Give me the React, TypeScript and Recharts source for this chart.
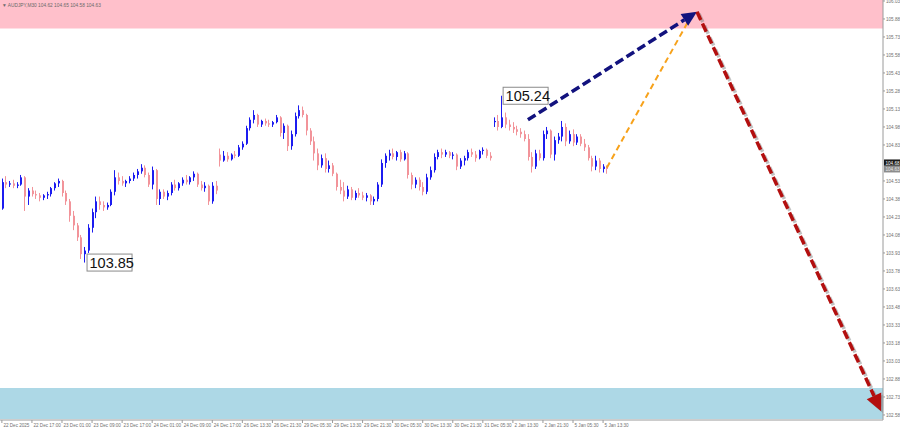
import React from 'react';
import { ComposedChart, Bar, XAxis, YAxis, ReferenceArea, ReferenceLine, ReferenceDot } from 'recharts';

// [open, high, low, close] per hour
const candles: number[][] = [
  [104.30,104.55,104.29,104.52],[104.52,104.57,104.47,104.50],[104.50,104.53,104.48,104.51],[104.51,104.54,104.47,104.49],
  [104.49,104.52,104.47,104.50],[104.50,104.58,104.49,104.56],[104.56,104.57,104.28,104.40],[104.40,104.47,104.33,104.45],
  [104.45,104.48,104.40,104.42],[104.42,104.45,104.38,104.41],[104.41,104.43,104.36,104.39],[104.39,104.42,104.37,104.41],
  [104.41,104.44,104.38,104.42],[104.42,104.48,104.40,104.47],[104.47,104.52,104.45,104.51],[104.51,104.55,104.48,104.53],
  [104.53,104.54,104.40,104.43],[104.43,104.45,104.33,104.36],[104.36,104.38,104.19,104.24],[104.24,104.28,104.12,104.16],
  [104.16,104.18,104.03,104.06],[104.06,104.08,103.88,103.92],[103.92,103.98,103.85,103.95],[103.95,104.17,103.93,104.14],
  [104.14,104.30,104.10,104.27],[104.27,104.40,104.22,104.36],[104.36,104.40,104.29,104.33],[104.33,104.36,104.28,104.31],
  [104.31,104.35,104.29,104.33],[104.33,104.46,104.32,104.44],[104.44,104.62,104.41,104.56],[104.56,104.60,104.50,104.53],
  [104.53,104.57,104.49,104.51],[104.51,104.54,104.48,104.53],[104.53,104.57,104.51,104.55],[104.55,104.60,104.53,104.58],
  [104.58,104.63,104.55,104.61],[104.61,104.67,104.59,104.64],[104.64,104.66,104.56,104.58],[104.58,104.60,104.48,104.50],
  [104.50,104.65,104.46,104.62],[104.62,104.63,104.33,104.38],[104.38,104.46,104.33,104.44],[104.44,104.46,104.38,104.40],
  [104.40,104.45,104.37,104.43],[104.43,104.52,104.41,104.50],[104.50,104.54,104.45,104.47],[104.47,104.52,104.45,104.51],
  [104.51,104.56,104.49,104.54],[104.54,104.58,104.50,104.52],[104.52,104.57,104.50,104.56],[104.56,104.61,104.53,104.59],
  [104.59,104.60,104.48,104.50],[104.50,104.53,104.45,104.47],[104.47,104.52,104.44,104.49],[104.49,104.50,104.33,104.36],
  [104.36,104.52,104.34,104.49],[104.49,104.53,104.42,104.45],[104.75,104.80,104.65,104.70],[104.70,104.78,104.69,104.74],
  [104.74,104.77,104.69,104.71],[104.71,104.76,104.70,104.75],[104.75,104.78,104.72,104.74],[104.74,104.83,104.73,104.81],
  [104.81,104.86,104.79,104.84],[104.84,104.99,104.83,104.97],[104.97,105.06,104.95,105.04],[105.04,105.12,105.01,105.08],
  [105.08,105.09,104.98,105.00],[105.00,105.04,104.98,105.03],[105.03,105.05,104.99,105.01],[105.01,105.04,104.98,105.00],
  [105.00,105.03,104.98,105.02],[105.02,105.08,105.01,105.06],[105.06,105.07,104.90,104.93],[104.93,105.01,104.88,104.99],
  [104.99,105.00,104.78,104.82],[104.82,104.95,104.79,104.92],[104.92,105.10,104.90,105.07],[105.07,105.16,105.05,105.12],
  [105.12,105.15,105.06,105.08],[105.08,105.09,104.91,104.95],[104.95,104.97,104.83,104.86],[104.86,104.90,104.70,104.76],
  [104.76,104.80,104.62,104.66],[104.66,104.75,104.64,104.72],[104.72,104.76,104.60,104.63],[104.63,104.70,104.60,104.66],
  [104.66,104.68,104.57,104.59],[104.59,104.60,104.45,104.48],[104.48,104.54,104.42,104.45],[104.45,104.52,104.36,104.40],
  [104.40,104.49,104.38,104.46],[104.46,104.48,104.37,104.39],[104.39,104.45,104.37,104.43],[104.43,104.47,104.39,104.41],
  [104.41,104.44,104.37,104.39],[104.39,104.43,104.36,104.41],[104.41,104.42,104.33,104.36],[104.36,104.40,104.33,104.38],
  [104.38,104.52,104.36,104.50],[104.50,104.71,104.48,104.68],[104.68,104.76,104.64,104.74],[104.74,104.79,104.70,104.76],
  [104.76,104.80,104.71,104.73],[104.73,104.78,104.70,104.77],[104.77,104.79,104.69,104.71],[104.71,104.78,104.70,104.76],
  [104.76,104.77,104.55,104.58],[104.58,104.60,104.46,104.50],[104.50,104.56,104.47,104.54],[104.54,104.56,104.45,104.48],
  [104.48,104.52,104.41,104.44],[104.44,104.59,104.42,104.56],[104.56,104.65,104.54,104.62],[104.62,104.76,104.60,104.73],
  [104.73,104.79,104.71,104.77],[104.77,104.80,104.72,104.75],[104.75,104.79,104.73,104.77],[104.77,104.78,104.72,104.74],
  [104.74,104.77,104.71,104.75],[104.75,104.76,104.62,104.65],[104.65,104.72,104.63,104.70],[104.70,104.74,104.66,104.72],
  [104.72,104.79,104.70,104.77],[104.77,104.80,104.73,104.75],[104.75,104.78,104.69,104.72],[104.72,104.79,104.71,104.78],
  [104.78,104.81,104.75,104.79],[104.79,104.80,104.72,104.74],[104.74,104.77,104.70,104.72],[105.02,105.06,104.98,105.03],
  [105.03,105.08,104.95,104.98],[104.98,105.24,104.97,105.06],[105.06,105.10,104.97,105.00],[105.00,105.04,104.95,104.98],
  [104.98,105.02,104.93,104.96],[104.96,104.99,104.91,104.94],[104.94,104.97,104.89,104.92],[104.92,104.95,104.86,104.88],
  [104.88,104.92,104.70,104.73],[104.73,104.77,104.60,104.65],[104.65,104.79,104.63,104.76],[104.76,104.79,104.70,104.72],
  [104.72,104.95,104.70,104.92],[104.92,104.98,104.88,104.95],[104.95,104.96,104.72,104.75],[104.75,104.90,104.70,104.87],
  [104.87,104.93,104.84,104.90],[104.90,105.03,104.86,104.98],[104.98,105.01,104.82,104.86],[104.86,104.95,104.84,104.92],
  [104.92,104.96,104.82,104.85],[104.85,104.92,104.83,104.90],[104.90,104.92,104.82,104.84],[104.84,104.88,104.78,104.81],
  [104.81,104.83,104.70,104.72],[104.72,104.74,104.61,104.65],[104.65,104.74,104.62,104.70],[104.70,104.72,104.60,104.63],
  [104.63,104.67,104.60,104.65],[104.65,104.66,104.59,104.63],
];

const timeLabels = [
  '22 Dec 2025', '22 Dec 17:00', '23 Dec 01:00', '23 Dec 09:00', '23 Dec 17:00', '24 Dec 01:00', '24 Dec 09:00',
  '24 Dec 17:00', '26 Dec 13:30', '26 Dec 21:30', '29 Dec 05:30', '29 Dec 13:30', '29 Dec 21:30', '30 Dec 05:30',
  '30 Dec 13:30', '30 Dec 21:30', '31 Dec 05:30', '2 Jan 13:30', '2 Jan 21:30', '5 Jan 05:30', '5 Jan 13:30',
];

const priceTicks = [106.03, 105.88, 105.73, 105.58, 105.43, 105.28, 105.13, 104.98, 104.83, 104.53, 104.38, 104.23,
  104.08, 103.93, 103.78, 103.63, 103.48, 103.33, 103.18, 103.03, 102.88, 102.73, 102.58];
const askPrice = 104.68;
const bidPrice = 104.63;

const resistanceZone = [105.80, 106.04];
const supportZone = [102.546, 102.805];

const extremes = [{ i: 133, price: 105.24 }, { i: 22, price: 103.85 }];

const impulseUp = [{ i: 140, price: 105.04 }, { i: 185, price: 105.94 }];
const altUp = [{ i: 161, price: 104.64 }, { i: 183, price: 105.88 }];
const forecastDown = [{ i: 185, price: 105.94 }, { i: 234, price: 102.61 }];

const title = '\u25BC AUDJPY,M30  104.62 104.65 104.58 104.63';

const SLOTS = 235;
const UP = '#1c1cf0';
const DOWN = '#f2949a';
const AXIS = '#9a9a9a';
const FONT = 'Liberation Sans, Arial, sans-serif';

const rows = Array.from({ length: SLOTS }, (_, i) => {
  const c = candles[i];
  return c ? { t: i, range: [c[2], c[1]], o: c[0], h: c[1], l: c[2], c: c[3] } : { t: i, range: null };
});

const CandleShape = (props: any) => {
  const { x, y, width, height, payload } = props;
  if (!payload || payload.range == null) return null;
  const top = Math.min(y, y + height);
  const h = Math.abs(height);
  const { o, h: hi, l: lo, c } = payload;
  const k = hi > lo ? h / (hi - lo) : 0;
  const cx = Math.round(x + width / 2);
  const color = c >= o ? UP : DOWN;
  const b1 = top + (hi - Math.max(o, c)) * k;
  const b2 = top + (hi - Math.min(o, c)) * k;
  return (
    <g>
      <line x1={cx + 0.5} x2={cx + 0.5} y1={top} y2={top + h} stroke={color} strokeWidth={1} />
      <rect x={cx} y={b1} width={2} height={Math.max(1, b2 - b1)} fill={color} />
    </g>
  );
};

const XTick = (props: any) => {
  const { x, y, payload } = props;
  const idx = payload.value;
  const label = idx % 8 === 0 ? timeLabels[idx / 8] : undefined;
  if (!label) return null;
  return (
    <g>
      <line x1={x} x2={x} y1={y} y2={y + 3} stroke={AXIS} strokeWidth={1} />
      <text x={x + 1.5} y={y + 6.5} fontSize={4.6} fill="#6f6f6f" fontFamily={FONT} textAnchor="start">{label}</text>
    </g>
  );
};

const YTick = (props: any) => {
  const { x, y, payload } = props;
  const v = payload.value;
  if (v === askPrice) {
    return (
      <g>
        <rect x={x + 1} y={y - 3.5} width={16} height={7} fill="#1a1a1a" />
        <text x={x + 2.5} y={y + 1.7} fontSize={4.6} fill="#ffffff" fontFamily={FONT}>{v.toFixed(2)}</text>
      </g>
    );
  }
  if (v === bidPrice) {
    return (
      <g>
        <rect x={x + 1} y={y - 3.5} width={16} height={7} fill="#8c8c8c" />
        <text x={x + 2.5} y={y + 1.7} fontSize={4.6} fill="#e8e8e8" fontFamily={FONT}>{v.toFixed(2)}</text>
      </g>
    );
  }
  return (
    <g>
      <line x1={x} x2={x + 2} y1={y} y2={y} stroke={AXIS} strokeWidth={1} />
      <text x={x + 3} y={y + 1.7} fontSize={4.6} fill="#6f6f6f" fontFamily={FONT}>{v.toFixed(2)}</text>
    </g>
  );
};

const arrowShape = (color: string, sw: number, dash: string, headLen: number, headW: number, shadow: boolean) => (p: any) => {
  const { x1, y1, x2, y2 } = p;
  if ([x1, y1, x2, y2].some((v) => typeof v !== 'number' || isNaN(v))) return null;
  const dx = x2 - x1, dy = y2 - y1;
  const len = Math.sqrt(dx * dx + dy * dy) || 1;
  const ux = dx / len, uy = dy / len;
  const px = -uy, py = ux;
  const bx = x2 - ux * headLen, by = y2 - uy * headLen;
  const lx = headLen > 0 ? bx : x2;
  const ly = headLen > 0 ? by : y2;
  const head = `${x2},${y2} ${bx + px * headW},${by + py * headW} ${bx - px * headW},${by - py * headW}`;
  return (
    <g>
      {shadow && (
        <g opacity={0.45}>
          <line x1={x1 + 2} y1={y1 + 2} x2={lx + 2} y2={ly + 2} stroke="#777" strokeWidth={sw} strokeDasharray={dash} />
          {headLen > 0 && <polygon points={head.split(' ').map((s) => s.split(',').map((n) => +n + 2).join(',')).join(' ')} fill="#777" />}
        </g>
      )}
      <line x1={x1} y1={y1} x2={lx} y2={ly} stroke={color} strokeWidth={sw} strokeDasharray={dash} />
      {headLen > 0 && <polygon points={head} fill={color} />}
    </g>
  );
};

const extremeShape = (label: string, dx: number) => (p: any) => {
  const { cx, cy } = p;
  if (typeof cx !== 'number' || typeof cy !== 'number') return null;
  return (
    <g>
      <rect x={cx + dx} y={cy - 8.5} width={45} height={17} fill="#ffffff" stroke="#8a8a8a" strokeWidth={1} />
      <text x={cx + dx + 2.5} y={cy + 5} fontSize={14.5} fill="#111" fontFamily={FONT}>{label}</text>
    </g>
  );
};

export default function App() {
  return (
    <div style={{ position: 'absolute', left: 0, top: 0, width: 900, height: 429, background: '#ffffff' }}>
      <ComposedChart width={900} height={429} data={rows} margin={{ top: 0, right: 0, bottom: 0, left: 0 }} barCategoryGap={0}>
        <XAxis dataKey="t" type="category" interval={7} height={9} tickLine={false} tickSize={0} tickMargin={0}
          axisLine={{ stroke: AXIS }} tick={<XTick />} />
        <YAxis orientation="right" type="number" width={17} domain={[102.538, 106.038]} allowDataOverflow
          ticks={[...priceTicks, askPrice, bidPrice]} interval={0} tickLine={false} tickSize={0} tickMargin={0}
          axisLine={{ stroke: AXIS }} tick={<YTick />} />
        <ReferenceArea y1={resistanceZone[0]} y2={resistanceZone[1]} fill="#ffc0cb" fillOpacity={1} stroke="none" ifOverflow="hidden" />
        <ReferenceArea y1={supportZone[0]} y2={supportZone[1]} fill="#add8e6" fillOpacity={1} stroke="none" ifOverflow="hidden" />
        <Bar dataKey="range" barSize={3} isAnimationActive={false} shape={<CandleShape />} />
        <ReferenceLine segment={[{ x: altUp[0].i, y: altUp[0].price }, { x: altUp[1].i, y: altUp[1].price }]}
          shape={arrowShape('#f7a21b', 2, '6 4', 0, 0, false)} />
        <ReferenceLine segment={[{ x: impulseUp[0].i, y: impulseUp[0].price }, { x: impulseUp[1].i, y: impulseUp[1].price }]}
          shape={arrowShape('#12127e', 3.5, '9 4', 15, 7, false)} />
        <ReferenceLine segment={[{ x: forecastDown[0].i, y: forecastDown[0].price }, { x: forecastDown[1].i, y: forecastDown[1].price }]}
          shape={arrowShape('#b30f0f', 3.5, '9 4', 17, 8, true)} />
        <ReferenceDot x={extremes[0].i} y={extremes[0].price} r={0} shape={extremeShape(extremes[0].price.toFixed(2), 1.5)} />
        <ReferenceDot x={extremes[1].i} y={extremes[1].price} r={0} shape={extremeShape(extremes[1].price.toFixed(2), 2.5)} />
      </ComposedChart>
      <svg width={300} height={10} style={{ position: 'absolute', left: 0, top: 0, pointerEvents: 'none' }}>
        <text x={2} y={6.5} fontSize={4.8} fill="#6a6a6a" fontFamily={FONT}>{title}</text>
      </svg>
    </div>
  );
}
